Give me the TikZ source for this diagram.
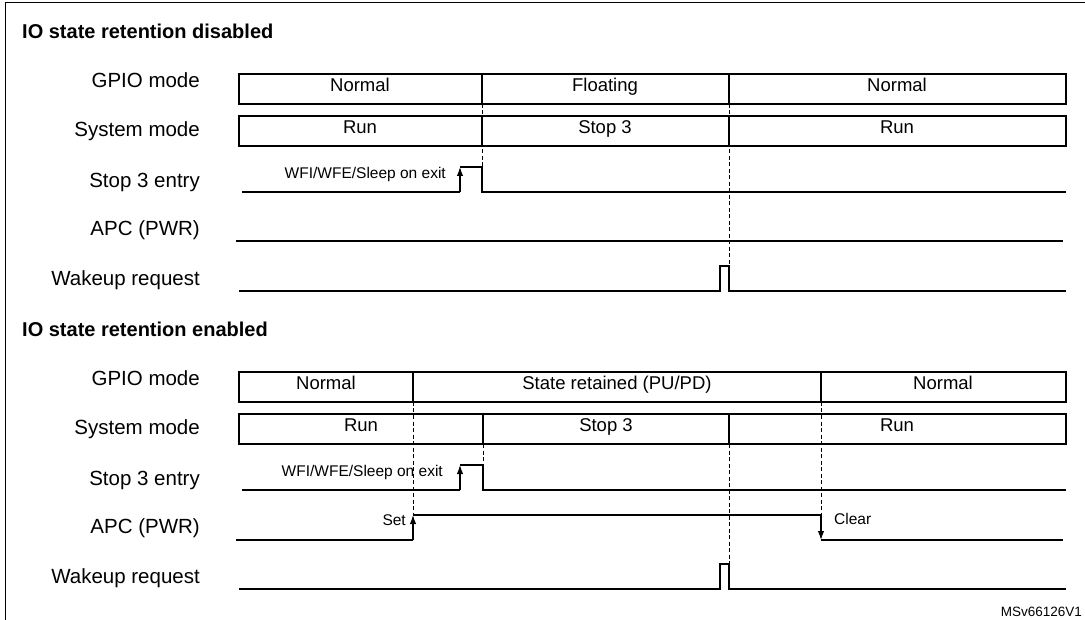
\documentclass[tikz,border=0pt]{standalone}
\usepackage{fontspec}
\setmainfont{Liberation Sans}
\usetikzlibrary{positioning, arrows.meta}
\tikzset{
	rowlabel/.style={anchor=east, font=\fontsize{20.5}{23}\selectfont, inner sep=0pt, text height=0.72em, text depth=0.2em},
	title/.style={anchor=west, font=\bfseries\fontsize{20}{23}\selectfont, inner sep=0pt, text height=0.72em, text depth=0.2em},
	boxtext/.style={font=\fontsize{18.5}{21}\selectfont, inner sep=0pt, text height=0.72em, text depth=0.2em},
	small/.style={font=\fontsize{15.5}{18}\selectfont, inner sep=0pt, text height=0.72em, text depth=0.2em},
	wave/.style={line width=1.2pt},
	timing/.style={line width=0.5pt, dash pattern=on 4pt off 2.5pt},
}
\begin{document}
\begin{tikzpicture}[x=1pt, y=-1pt, >={Latex[length=9pt,width=6.5pt]}]
	\useasboundingbox (0,0) rectangle (1085,620);
	\draw[line width=0.8pt] (5,625) -- (5,2) -- (1090,2);
	\node[font=\fontsize{13.5}{16}\selectfont, inner sep=0pt, anchor=south east] (ref) at (1082,617) {MSv66126V1};

	%% IO state retention disabled
	\node (t1) [title] at (22,36) {IO state retention disabled};
	\node (l1a) [rowlabel] at (200,85) {GPIO mode};
	\node (l1b) [rowlabel] at (200,134) {System mode};
	\node (l1c) [rowlabel] at (200,185) {Stop 3 entry};
	\node (l1d) [rowlabel] at (200,233) {APC (PWR)};
	\node (l1e) [rowlabel] at (200,283) {Wakeup request};

	\draw[wave] (239,74) rectangle (1066,104);
	\draw[wave] (482,74) -- (482,104) (729,74) -- (729,104);
	\node[boxtext] (g1) at (360,89) {Normal};
	\node[boxtext] (g2) at (605,89) {Floating};
	\node[boxtext] (g3) at (897,89) {Normal};

	\draw[wave] (239,116) rectangle (1066,146);
	\draw[wave] (482,116) -- (482,146) (729,116) -- (729,146);
	\node[boxtext] (s1) at (360,131) {Run};
	\node[boxtext] (s2) at (605,131) {Stop 3};
	\node[boxtext] (s3) at (897,131) {Run};

	\draw[wave] (242,192) -- (460,192);
	\draw[wave,->] (460,192) -- (460,167);
	\draw[wave] (460,167) -- (482,167) -- (482,192) -- (1066,192);
	\node[small, anchor=east] (w1) at (446,176) {WFI/WFE/Sleep on exit};

	\draw[wave] (236,241) -- (1063,241);

	\draw[wave] (239,291) -- (720,291) -- (720,266) -- (729,266) -- (729,291) -- (1066,291);

	\draw[timing] (482,104) -- (482,167);
	\draw[timing] (729,104) -- (729,266);

	%% IO state retention enabled
	\node (t2) [title] at (22,334) {IO state retention enabled};
	\node (l2a) [rowlabel] at (200,383) {GPIO mode};
	\node (l2b) [rowlabel] at (200,432) {System mode};
	\node (l2c) [rowlabel] at (200,483) {Stop 3 entry};
	\node (l2d) [rowlabel] at (200,531) {APC (PWR)};
	\node (l2e) [rowlabel] at (200,581) {Wakeup request};

	\draw[wave] (239,372) rectangle (1066,402);
	\draw[wave] (413,372) -- (413,402) (821,372) -- (821,402);
	\node[boxtext] (g4) at (326,387) {Normal};
	\node[boxtext] (g5) at (617,387) {State retained (PU/PD)};
	\node[boxtext] (g6) at (943,387) {Normal};

	\draw[wave] (239,414) rectangle (1066,444);
	\draw[wave] (483,414) -- (483,444) (729,414) -- (729,444);
	\node[boxtext] (s4) at (361,429) {Run};
	\node[boxtext] (s5) at (606,429) {Stop 3};
	\node[boxtext] (s6) at (897,429) {Run};

	\draw[wave] (242,490) -- (460,490);
	\draw[wave,->] (460,490) -- (460,465);
	\draw[wave] (460,465) -- (483,465) -- (483,490) -- (1066,490);
	\node[small, anchor=east] (w2) at (443,474) {WFI/WFE/Sleep on exit};

	\draw[wave] (236,540) -- (413,540);
	\draw[wave,->] (413,540) -- (413,515);
	\draw[wave] (413,515) -- (821,515);
	\draw[wave,->] (821,515) -- (821,540);
	\draw[wave] (821,540) -- (1063,540);
	\node[small, anchor=east] (set) at (406,523) {Set};
	\node[small, anchor=west] (clr) at (834,522) {Clear};

	\draw[wave] (239,589) -- (720,589) -- (720,564) -- (729,564) -- (729,589) -- (1066,589);

	\draw[timing] (413,402) -- (413,515);
	\draw[timing] (483,444) -- (483,465);
	\draw[timing] (729,444) -- (729,564);
	\draw[timing] (821,402) -- (821,515);
\end{tikzpicture}
\end{document}
